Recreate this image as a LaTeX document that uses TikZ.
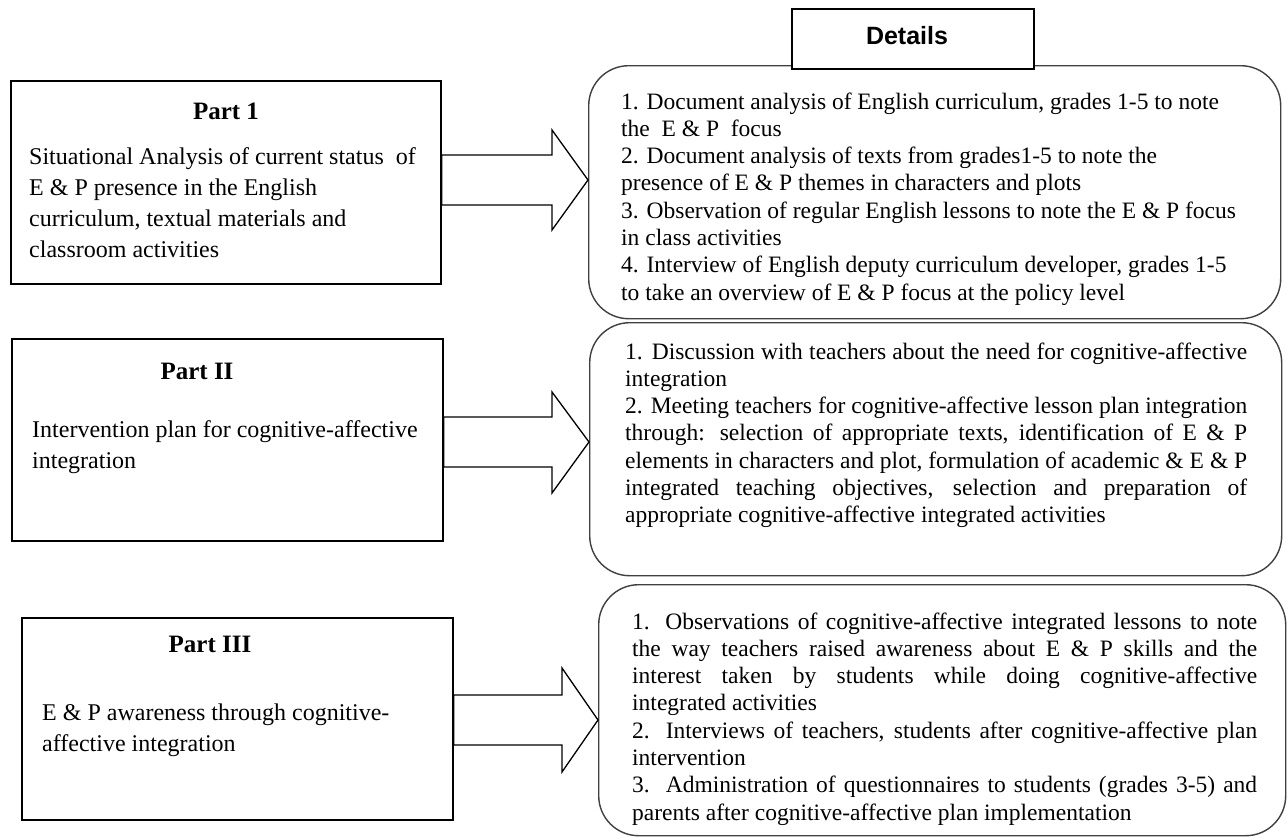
\documentclass[tikz,border=0pt]{standalone}
\usepackage{fontspec}
\setmainfont{Liberation Serif}
\newfontfamily\detfont{Liberation Sans}
\newcommand\jl[2]{\hbox to #1{#2}}
\newcommand\rl[1]{\hbox{#1}}
\newcommand\stack[1]{\vtop{\lineskiplimit=-100pt\lineskip=0pt #1}}
\begin{document}
\begin{tikzpicture}[x=1pt,y=-1pt,
  partbox/.style={draw=black, line width=1.6pt, inner sep=0pt, anchor=north west},
  detbox/.style={draw=black!75, line width=1.4pt, rounded corners=40pt, inner sep=0pt, anchor=north west},
  headbox/.style={draw=black, line width=1.6pt, fill=white, inner sep=0pt, anchor=north west},
  blockarrow/.style={draw=black, line width=1.3pt, fill=white, line join=miter},
  ltxt/.style={inner sep=0pt, anchor=base west, font=\fontsize{24}{31}\selectfont},
  rtxt/.style={inner sep=0pt, anchor=base west, font=\fontsize{23.5}{27.3}\selectfont},
  ttl/.style={inner sep=0pt, anchor=base, font=\fontsize{25}{30}\selectfont\bfseries},
]
\useasboundingbox[fill=white] (0,0) rectangle (1287,838);

% left boxes
\node[partbox, minimum width=430pt, minimum height=203pt] (p1) at (10,80) {};
\node[partbox, minimum width=431pt, minimum height=202pt] (p2) at (11,338) {};
\node[partbox, minimum width=431pt, minimum height=202pt] (p3) at (21,617) {};

% right rounded boxes
\node[detbox, minimum width=692pt, minimum height=253pt] (d1) at (588,65) {};
\node[detbox, minimum width=692pt, minimum height=253pt] (d2) at (589,322) {};
\node[detbox, minimum width=687pt, minimum height=251pt] (d3) at (598,584) {};

% Details header
\node[headbox, minimum width=242pt, minimum height=60pt] (hd) at (791,8) {};
\node[inner sep=0pt, anchor=base, font=\detfont\fontsize{25}{30}\selectfont\bfseries] (hdt) at (907,44) {Details};

% block arrows
\draw[blockarrow] (p1.east |- 0,155) -- (552,155) -- (552,130) -- (d1.west |- 0,180) -- (552,230) -- (552,205) -- (p1.east |- 0,205) -- cycle;
\draw[blockarrow] (p2.east |- 0,417) -- (552,417) -- (552,392) -- (d2.west |- 0,442) -- (552,493) -- (552,467) -- (p2.east |- 0,467) -- cycle;
\draw[blockarrow] (p3.east |- 0,695) -- (562,695) -- (562,668) -- (d3.west |- 0,720) -- (562,772) -- (562,745) -- (p3.east |- 0,745) -- cycle;

% left texts
\node[ttl] (p1t) at (226,119) {Part 1};
\node[ltxt] (p1x) at (29,164) {\stack{\rl{Situational Analysis of current status\ \ of}\rl{E \& P presence in the English}\rl{curriculum, textual materials and}\rl{classroom activities}}};
\node[ttl] (p2t) at (197,379) {Part II};
\node[ltxt] (p2x) at (32,437) {\stack{\rl{Intervention plan for cognitive-affective}\rl{integration}}};
\node[ttl] (p3t) at (210,652) {Part III};
\node[ltxt] (p3x) at (42,720) {\stack{\rl{E \& P awareness through cognitive-}\rl{affective integration}}};

% right texts
\node[rtxt] (d1x) at (621,109) {\stack{%
\rl{1. Document analysis of English curriculum, grades 1-5 to note}%
\rl{the\ \ E \& P\ \ focus}%
\rl{2. Document analysis of texts from grades1-5 to note the}%
\rl{presence of E \& P themes in characters and plots}%
\rl{3. Observation of regular English lessons to note the E \& P focus}%
\rl{in class activities}%
\rl{4. Interview of English deputy curriculum developer, grades 1-5}%
\rl{to take an overview of E \& P focus at the policy level}}};

\node[rtxt] (d2x) at (625,359) {\stack{%
\jl{622pt}{1. Discussion with teachers about the need for cognitive-affective}%
\rl{integration}%
\jl{622pt}{2. Meeting teachers for cognitive-affective lesson plan integration}%
\jl{622pt}{through: selection of appropriate texts, identification of E \& P}%
\jl{622pt}{elements in characters and plot, formulation of academic \& E \& P}%
\jl{622pt}{integrated teaching objectives, selection and preparation of}%
\rl{appropriate cognitive-affective integrated activities}}};

\node[rtxt] (d3x) at (632,629) {\stack{%
\jl{625pt}{1. Observations of cognitive-affective integrated lessons to note}%
\jl{625pt}{the way teachers raised awareness about E \& P skills and the}%
\jl{625pt}{interest taken by students while doing cognitive-affective}%
\rl{integrated activities}%
\jl{625pt}{2. Interviews of teachers, students after cognitive-affective plan}%
\rl{intervention}%
\jl{625pt}{3.\ \ Administration of questionnaires to students (grades 3-5) and}%
\rl{parents after cognitive-affective plan implementation}}};
\end{tikzpicture}
\end{document}
